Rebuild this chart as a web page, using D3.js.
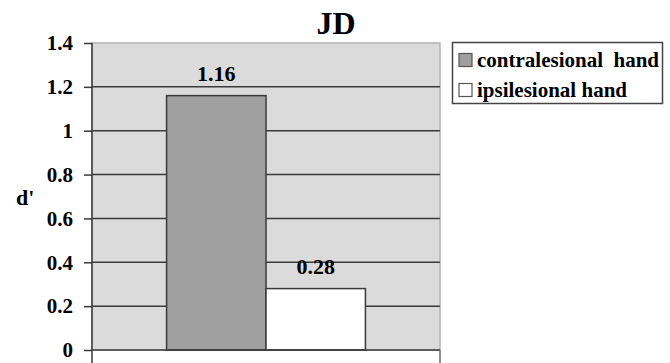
<!DOCTYPE html>
<html>
<head>
<meta charset="utf-8">
<script src="https://cdn.jsdelivr.net/npm/d3@7"></script>
<style>
  html, body { margin: 0; padding: 0; background: #fff; }
  svg.jd-plot { display: block; }
  svg.jd-plot text { font-family: "Liberation Serif", serif !important; font-weight: bold; }
</style>
</head>
<body>
<script>
// Data
const categories = ["JD"];
const seriesNames = ["contralesional  hand", "ipsilesional hand"];
const seriesValues = [1.16, 0.28];
const seriesFills = ["#a0a0a0", "#ffffff"];
const yTickValues = [0, 0.2, 0.4, 0.6, 0.8, 1, 1.2, 1.4];
const yTickLabels = ["0", "0.2", "0.4", "0.6", "0.8", "1", "1.2", "1.4"];
const yAxisTitle = "d'";
const chartTitle = "JD";

const H = 363;
const svg = d3.select("body").append("svg")
  .attr("class", "jd-plot").attr("width", 670).attr("height", H);
const plot = { left: 92, right: 440, top: 43, bottom: 350 };

function styleText(sel, size) {
  sel.style("font-family", "Liberation Serif")
    .attr("font-weight", "bold")
    .attr("font-size", size)
    .attr("fill", "#000");
}

const x0 = d3.scaleBand().domain(categories).range([plot.left, plot.right]).padding(0);
const x1 = d3.scaleBand().domain(seriesNames).range([0, x0.bandwidth()])
  .paddingInner(0).paddingOuter(0.75);
const y = d3.scaleLinear().domain([0, 1.4]).range([plot.bottom, plot.top]);

// Plot background
svg.append("rect")
  .attr("x", plot.left).attr("y", plot.top)
  .attr("width", plot.right - plot.left).attr("height", plot.bottom - plot.top)
  .attr("fill", "#dbdbdb").attr("stroke", "#b4b4b4").attr("stroke-width", 1.5);

// Horizontal gridlines
svg.append("g").selectAll("line")
  .data(yTickValues.filter(v => v > 0 && v < 1.4))
  .join("line")
  .attr("x1", plot.left).attr("x2", plot.right)
  .attr("y1", d => y(d)).attr("y2", d => y(d))
  .attr("stroke", "#3a3a3a").attr("stroke-width", 1.5);

// Bars
const rows = seriesNames.map((s, i) => ({ cat: categories[0], name: s, value: seriesValues[i], fill: seriesFills[i] }));
svg.append("g").selectAll("rect")
  .data(rows)
  .join("rect")
  .attr("x", d => x0(d.cat) + x1(d.name))
  .attr("y", d => y(d.value))
  .attr("width", x1.bandwidth())
  .attr("height", d => y(0) - y(d.value))
  .attr("fill", d => d.fill)
  .attr("stroke", "#3a3a3a").attr("stroke-width", 1.5);

// Value labels
svg.append("g").selectAll("text")
  .data(rows)
  .join("text")
  .attr("x", d => x0(d.cat) + x1(d.name) + x1.bandwidth() / 2)
  .attr("y", d => y(d.value) - 15)
  .attr("text-anchor", "middle")
  .call(styleText, 22)
  .text(d => d.value.toFixed(2));

// Y axis
const yAxis = d3.axisLeft(y)
  .tickValues(yTickValues)
  .tickFormat((d, i) => yTickLabels[i])
  .tickSize(8).tickPadding(11);
const gy = svg.append("g").attr("transform", `translate(${plot.left},0)`).call(yAxis)
  .attr("font-family", null).attr("font-size", null);
gy.select(".domain").attr("d", `M0,${plot.top}V${H + 5}`).attr("stroke", "#3a3a3a").attr("stroke-width", 1.5);
gy.selectAll(".tick line").attr("stroke", "#3a3a3a").attr("stroke-width", 1.5);
gy.selectAll(".tick text").call(styleText, 21);

// X axis with the category boundary tick
const gx = svg.append("g").attr("transform", `translate(0,${plot.bottom})`);
gx.append("line").attr("x1", plot.left).attr("x2", plot.right)
  .attr("stroke", "#3a3a3a").attr("stroke-width", 1.5);
gx.selectAll("line.boundary")
  .data([x0.range()[1]])
  .join("line").attr("class", "boundary")
  .attr("x1", d => d).attr("x2", d => d)
  .attr("y1", 0).attr("y2", 20)
  .attr("stroke", "#6a6a6a").attr("stroke-width", 1.5);

// Y axis title
svg.append("text")
  .attr("x", 16).attr("y", 205)
  .call(styleText, 22)
  .text(yAxisTitle);

// Chart title
svg.append("text")
  .attr("x", 336).attr("y", 34)
  .attr("text-anchor", "middle")
  .call(styleText, 32)
  .text(chartTitle);

// Legend
const legend = svg.append("g");
legend.append("rect")
  .attr("x", 452.5).attr("y", 42.5).attr("width", 210).attr("height", 61)
  .attr("fill", "#fff").attr("stroke", "#444").attr("stroke-width", 1.5);
const items = legend.selectAll("g.item")
  .data(rows)
  .join("g").attr("class", "item")
  .attr("transform", (d, i) => `translate(0,${i * 30})`);
items.append("rect")
  .attr("x", 459).attr("y", 53.5).attr("width", 13).attr("height", 13)
  .attr("fill", d => d.fill).attr("stroke", "#555").attr("stroke-width", 1.2);
items.append("text")
  .attr("x", 477).attr("y", 66.5)
  .attr("xml:space", "preserve")
  .call(styleText, 21)
  .text(d => d.name);
</script>
</body>
</html>
